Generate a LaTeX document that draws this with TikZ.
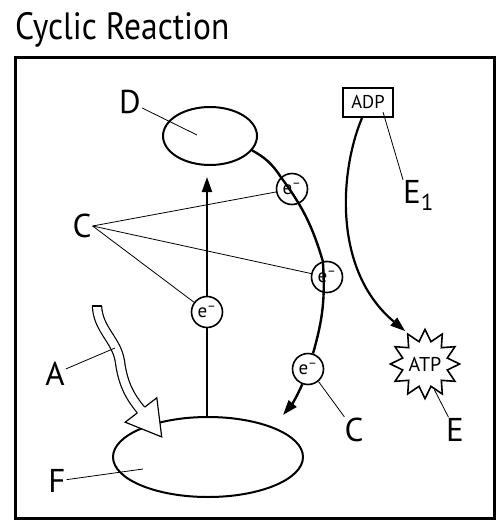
\documentclass[tikz,border=0pt]{standalone}
\usepackage{fontspec}
\setmainfont{PT Sans}
\usetikzlibrary{arrows.meta,shapes.geometric,positioning}
\tikzset{
  >={Triangle[length=15pt,width=10pt]},
  blob/.style={ellipse,draw,line width=2pt,inner sep=0pt},
  ebox/.style={circle,draw,line width=1.6pt,minimum size=31pt,inner sep=0pt,
    fill=white,font=\fontsize{19}{19}\selectfont},
  tagbox/.style={draw,line width=2pt,minimum width=50pt,minimum height=29pt,
    inner sep=0pt,font=\fontsize{18.5}{18.5}\selectfont},
  lbl/.style={font=\fontsize{33}{33}\selectfont,inner sep=1pt},
  lead/.style={line width=0.8pt},
  chain/.style={line width=2.4pt},
  hollow/.style={line width=1.2pt},
}
\newcommand{\elec}{e\textsuperscript{--}}

\begin{document}
\begin{tikzpicture}[x=1pt,y=1pt]
  \useasboundingbox (0,0) rectangle (497,-527);
  \node[anchor=base west,inner sep=0pt,font=\fontsize{38}{38}\selectfont] (title) at (15,-40)
    {\scalebox{0.88}[1]{Cyclic Reaction}};
  \draw[line width=3pt] (15,-58) rectangle (494,-518);

  % the two pools
  \node[blob,minimum width=94pt,minimum height=58pt] (D) at (210,-136) {};
  \node[blob,minimum width=190pt,minimum height=80pt] (F) at (208,-457) {};

  % electrons
  \node[ebox] (e0) at (207,-312) {\elec};
  \node[ebox] (e1) at (292,-189) {\elec};
  \node[ebox] (e2) at (327,-277) {\elec};
  \node[ebox] (e3) at (308,-369) {\elec};
  \coordinate (Dtip) at (207,-177);
  \coordinate (Ftip) at (283,-415);

  \draw[line width=2pt] (F.north -| e0) -- (e0);
  \draw[->,line width=2pt] (e0) -- (Dtip);
  \draw[chain] (D) to[bend left=14] (e1) to[bend left=10] (e2) to[bend left=10] (e3);
  \draw[chain,->] (e3) to[bend left=8] (Ftip);

  % ADP -> ATP
  \node[tagbox] (ADP) at (368,-102.5) {ADP};
  \node[star,star points=12,star point ratio=1.5,draw,line width=1.6pt,minimum size=68pt,
    inner sep=0pt,font=\fontsize{20}{20}\selectfont] (ATP) at (425,-364) {ATP};
  \draw[->,line width=2.2pt,shorten >=2pt] ([xshift=20pt]ADP.south west)
    .. controls (340,-170) and (332,-270) .. (ATP.120);

  % hollow arrow
  \draw[hollow,double=white,double distance=8pt] (97,-306) .. controls (98,-330) and (117,-340) .. (120,-362)
    .. controls (123,-385) and (131,-398) .. (141,-410);
  \draw[hollow] (92.4,-306) -- (101.6,-306);
  \draw[hollow,fill=white] (137.4,-412.8) -- (125.2,-422.2) -- (161.7,-436.9) -- (156.8,-397.8) -- (144.6,-407.2);

  % labels
  \node[lbl] (labD) at (130,-102) {D};
  \node[lbl] (labC) at (82,-226) {C};
  \node[lbl] (labA) at (55,-374) {A};
  \node[lbl] (labF) at (57,-481) {F};
  \node[lbl] (labCb) at (354,-430) {C};
  \node[lbl] (labE) at (455,-430) {E};
  \node[lbl,anchor=base west,inner sep=0pt] (labE1) at (403,-203) {E\textsubscript{1}};
  \coordinate (Din) at (197,-135);
  \coordinate (Fin) at (143,-469);
  \coordinate (Ain) at (115,-348);
  \coordinate (ADPin) at (383,-112);

  \draw[lead] (labD) -- (Din);
  \draw[lead] (labC.east) -- (e1);
  \draw[lead] (labC.east) -- (e2);
  \draw[lead] (labC.east) -- (e0);
  \draw[lead] (labA.25) -- (Ain);
  \draw[lead] (labF) -- (Fin);
  \draw[lead] (e3.-50) -- (labCb);
  \draw[lead] (ATP.-70) -- (labE);
  \draw[lead] (ADPin) -- (labE1.north west);
\end{tikzpicture}
\end{document}
